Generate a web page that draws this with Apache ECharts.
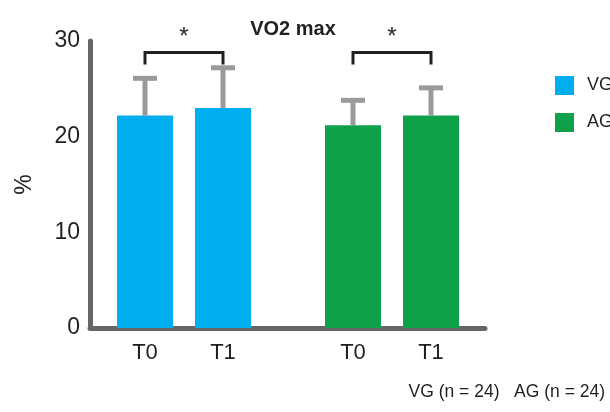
<!DOCTYPE html>
<html lang="en">
<head>
    <meta charset="UTF-8">
    <title>VO2 max</title>
    <style>
        html, body { margin: 0; padding: 0; background: #fff; }
        #chart { width: 610px; height: 412px; }
    </style>
</head>
<body>
<div id="chart"></div>
<script src="https://cdn.jsdelivr.net/npm/echarts@6/dist/echarts.min.js"></script>
<script>
    // slots on the bar axis: T0/T1 of each group, blanks make the gap between groups
    var slotLabels = ['T0', '', '', 'T1', '', '', '', '', 'T0', '', '', 'T1'];
    var vgSlots = [0, 3];
    var agSlots = [8, 11];
    var vgMean = [22.2, 23.0];
    var vgUpper = [26.1, 27.2];
    var agMean = [21.2, 22.2];
    var agUpper = [23.8, 25.1];
    var sigPairs = [[0, 3], [8, 11]];
    var sigLevel = 28.8;
    var yTicks = [0, 10, 20, 30];

    var FONT = "'Liberation Sans', Arial, sans-serif";
    var INK = '#231f20';

    function toSlots(slots, vals) {
        return slotLabels.map(function (_, i) {
            var k = slots.indexOf(i);
            return k >= 0 ? vals[k] : '-';
        });
    }

    var errData = [];
    vgSlots.forEach(function (s, i) { errData.push([s, vgMean[i], vgUpper[i]]); });
    agSlots.forEach(function (s, i) { errData.push([s, agMean[i], agUpper[i]]); });

    var chart = echarts.init(document.getElementById('chart'));
    var option = {
        animation: false,
        textStyle: { fontFamily: FONT },
        title: [
            {
                text: 'VO2 max',
                left: 288, top: 14, textAlign: 'center',
                textStyle: { fontSize: 20, fontWeight: 'bold', color: INK, fontFamily: FONT }
            },
            {
                text: 'VG (n = 24)   AG (n = 24)',
                right: 0, top: 378,
                textStyle: { fontSize: 17.5, fontWeight: 'normal', color: INK, fontFamily: FONT }
            }
        ],
        legend: {
            data: ['VG', 'AG'],
            orient: 'vertical',
            left: 555, top: 76,
            padding: 0,
            itemWidth: 19, itemHeight: 19, itemGap: 18,
            icon: 'rect',
            textStyle: { fontSize: 18, color: INK, fontFamily: FONT, padding: [0, 0, 0, 8] }
        },
        grid: [
            { left: 90, right: 125, top: 41, bottom: 84 },   // axes frame
            { left: 132, right: 166, top: 41, bottom: 84 }   // bars
        ],
        xAxis: [
            {
                gridIndex: 0, type: 'value', min: 0, max: 1,
                axisLine: { show: true, lineStyle: { color: '#666', width: 5, cap: 'round' } },
                axisTick: { show: false }, axisLabel: { show: false }, splitLine: { show: false }
            },
            {
                gridIndex: 1, type: 'category', data: slotLabels,
                axisLine: { show: false }, axisTick: { show: false },
                axisLabel: { interval: 0, fontSize: 22, color: INK, margin: 14, fontFamily: FONT }
            }
        ],
        yAxis: [
            {
                gridIndex: 0, type: 'value', min: yTicks[0], max: yTicks[yTicks.length - 1], interval: 10,
                name: '%', nameLocation: 'middle', nameGap: 54, nameRotate: 90,
                nameTextStyle: { fontSize: 23, color: INK, fontFamily: FONT },
                axisLine: { show: true, lineStyle: { color: '#666', width: 5, cap: 'round' } },
                axisTick: { show: false }, splitLine: { show: false },
                axisLabel: { fontSize: 23, color: INK, margin: 10, fontFamily: FONT }
            },
            {
                gridIndex: 1, type: 'value', min: 0, max: 30, show: false
            }
        ],
        series: [
            {
                name: 'VG', type: 'bar', xAxisIndex: 1, yAxisIndex: 1, clip: false,
                data: toSlots(vgSlots, vgMean), barWidth: 56, barGap: '-100%',
                itemStyle: { color: '#00aeef' }, z: 2
            },
            {
                name: 'AG', type: 'bar', xAxisIndex: 1, yAxisIndex: 1, clip: false,
                data: toSlots(agSlots, agMean), barWidth: 56, barGap: '-100%',
                itemStyle: { color: '#0fa04a' }, z: 2
            },
            {
                // error bars (upper only)
                type: 'custom', xAxisIndex: 1, yAxisIndex: 1, clip: false, z: 3,
                data: errData,
                renderItem: function (params, api) {
                    var lo = api.coord([api.value(0), api.value(1)]);
                    var hi = api.coord([api.value(0), api.value(2)]);
                    var st = { stroke: '#9a9a9a', lineWidth: 5 };
                    return {
                        type: 'group',
                        children: [
                            { type: 'line', shape: { x1: lo[0], y1: lo[1], x2: hi[0], y2: hi[1] }, style: st },
                            { type: 'line', shape: { x1: hi[0] - 12, y1: hi[1], x2: hi[0] + 12, y2: hi[1] }, style: st }
                        ]
                    };
                }
            },
            {
                // significance brackets
                type: 'custom', xAxisIndex: 1, yAxisIndex: 1, clip: false, z: 3,
                data: sigPairs.map(function (p) { return [p[0], p[1], sigLevel]; }),
                renderItem: function (params, api) {
                    var a = api.coord([api.value(0), api.value(2)]);
                    var b = api.coord([api.value(1), api.value(2)]);
                    var drop = 12;
                    return {
                        type: 'group',
                        children: [
                            {
                                type: 'polyline',
                                shape: { points: [[a[0], a[1] + drop], [a[0], a[1]], [b[0], b[1]], [b[0], b[1] + drop]] },
                                style: { stroke: INK, lineWidth: 3, fill: null }
                            },
                            {
                                type: 'text',
                                style: {
                                    text: '*', x: (a[0] + b[0]) / 2, y: a[1] - 15,
                                    align: 'center', verticalAlign: 'middle',
                                    fontSize: 24, fontFamily: FONT, fill: INK
                                }
                            }
                        ]
                    };
                }
            }
        ]
    };
    chart.setOption(option);
</script>
</body>
</html>
